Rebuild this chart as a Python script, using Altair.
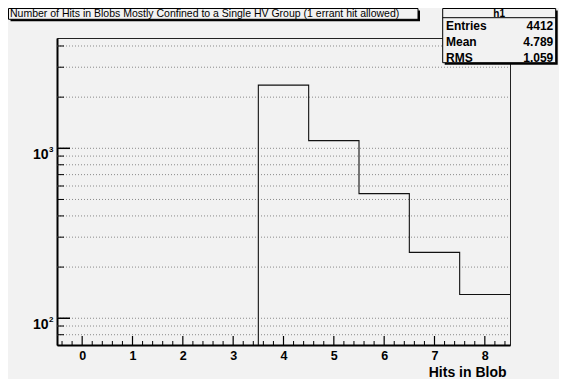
import altair as alt
import pandas as pd
import numpy as np

# ---- data ----
bin_centers = [4, 5, 6, 7, 8]
counts = [2355, 1109, 541, 244, 138]
x_tick_labels = [0, 1, 2, 3, 4, 5, 6, 7, 8]
y_major = [100, 1000]
y_major_exp = ["2", "3"]
y_minor = [80, 90, 200, 300, 400, 500, 600, 700, 800, 900, 2000, 3000, 4000]
y_domain = [69.6, 4457]
x_domain = [-0.5, 8.5]
title_text = "Number of Hits in Blobs Mostly Confined to a Single HV Group (1 errant hit allowed)"
stats_name = "h1"
stats_labels = ["Entries", "Mean", "RMS"]
stats_values = ["4412", "4.789", "1.059"]
x_title = "Hits in Blob"

# ---- layout ----
W, H = 453, 307
BG = "#f2f2f2"
FONT = "Liberation Sans"

xscale = alt.Scale(domain=x_domain, nice=False, zero=False)
yscale = alt.Scale(type="log", domain=y_domain, nice=False)

xaxis = alt.Axis(values=x_tick_labels, ticks=False, grid=False, domain=True,
                 domainColor="black", domainWidth=2, labelFont=FONT,
                 labelFontSize=12.5, labelFontWeight="bold", labelColor="black",
                 labelPadding=4, title=x_title, titleFont=FONT, titleFontSize=14,
                 titleFontWeight="bold", titleColor="black", titleAlign="right",
                 titleAnchor="end", titleX=W - 4, titleY=31,
                 titleBaseline="alphabetic")
yaxis = alt.Axis(labels=False, ticks=False, grid=False, domain=True,
                 domainColor="black", domainWidth=2, title="")

def X(field):
    return alt.X(field, scale=xscale, axis=xaxis)

def Y(field):
    return alt.Y(field, scale=yscale, axis=yaxis)

# step outline of the histogram
sx, sy = [bin_centers[0] - 0.5], [y_domain[0]]
for c, v in zip(bin_centers, counts):
    sx += [c - 0.5, c + 0.5]
    sy += [v, v]
step = pd.DataFrame({"x": sx, "y": sy, "o": list(range(len(sx)))})

grid_df = pd.DataFrame({"v": y_minor + y_major})
ymaj_df = pd.DataFrame({"v": y_major, "base": ["10"] * len(y_major), "exp": y_major_exp})
ymin_df = pd.DataFrame({"v": y_minor})

minor_x = [round(v, 1) for v in np.arange(-0.4, 8.45, 0.2) if abs(v - round(v)) > 1e-6]
xmin_df = pd.DataFrame({"x": minor_x})
xmaj_df = pd.DataFrame({"x": x_tick_labels})
one = pd.DataFrame({"a": [0]})

grid = alt.Chart(grid_df).mark_rule(color="#8a8a8a", strokeDash=[1, 2], strokeWidth=1).encode(
    y=Y("v:Q"), x=alt.value(0), x2=alt.value(W))

hist = alt.Chart(step).mark_line(color="#111111", strokeWidth=1.1, interpolate="linear").encode(
    x=X("x:Q"), y=Y("y:Q"), order="o:Q")

ytick_major = alt.Chart(ymaj_df).mark_rule(color="black", strokeWidth=1.5).encode(
    y=Y("v:Q"), x=alt.value(0), x2=alt.value(13))
ytick_minor = alt.Chart(ymin_df).mark_rule(color="black", strokeWidth=1).encode(
    y=Y("v:Q"), x=alt.value(0), x2=alt.value(7))

xtick_major = alt.Chart(xmaj_df).mark_rule(color="black", strokeWidth=1.2).encode(
    x=X("x:Q"), y=alt.value(H), y2=alt.value(H - 9))
xtick_minor = alt.Chart(xmin_df).mark_rule(color="black", strokeWidth=1).encode(
    x=X("x:Q"), y=alt.value(H), y2=alt.value(H - 4))

ylab_base = alt.Chart(ymaj_df).mark_text(font=FONT, fontSize=14, fontWeight="bold",
                                         align="right", baseline="alphabetic", dy=11,
                                         color="black").encode(
    y=Y("v:Q"), x=alt.value(-8.5), text="base:N")
ylab_exp = alt.Chart(ymaj_df).mark_text(font=FONT, fontSize=8, fontWeight="bold",
                                        align="left", baseline="alphabetic", dy=3.5,
                                        color="black").encode(
    y=Y("v:Q"), x=alt.value(-8), text="exp:N")

# title pave
tb = dict(x0=-48.5, x1=361, y0=-29.5, y1=-18.7)
title_shadow = alt.Chart(one).mark_rect(fill="black").encode(
    x=alt.value(tb["x0"] + 2), x2=alt.value(tb["x1"] + 2),
    y=alt.value(tb["y0"] + 2), y2=alt.value(tb["y1"] + 2))
title_box = alt.Chart(one).mark_rect(fill=BG, stroke="black", strokeWidth=1).encode(
    x=alt.value(tb["x0"]), x2=alt.value(tb["x1"]), y=alt.value(tb["y0"]), y2=alt.value(tb["y1"]))
title_txt = alt.Chart(one).mark_text(font=FONT, fontSize=10.5, align="left",
                                     baseline="alphabetic", color="black").encode(
    x=alt.value(-47), y=alt.value(-21.1), text=alt.value(title_text))

# stats pave
sb = dict(x0=385.7, x1=498.7, y0=-29.5, y1=24.7)
stats_shadow = alt.Chart(one).mark_rect(fill="black").encode(
    x=alt.value(sb["x0"] + 2), x2=alt.value(sb["x1"] + 2),
    y=alt.value(sb["y0"] + 2), y2=alt.value(sb["y1"] + 2))
stats_box = alt.Chart(one).mark_rect(fill=BG, stroke="black", strokeWidth=1).encode(
    x=alt.value(sb["x0"]), x2=alt.value(sb["x1"]), y=alt.value(sb["y0"]), y2=alt.value(sb["y1"]))
stats_sep = alt.Chart(one).mark_rule(color="black", strokeWidth=1).encode(
    x=alt.value(sb["x0"]), x2=alt.value(sb["x1"]), y=alt.value(-20.3))
stats_head = alt.Chart(one).mark_text(font=FONT, fontSize=10, fontWeight="bold", align="center",
                                      baseline="alphabetic", color="black").encode(
    x=alt.value((sb["x0"] + sb["x1"]) / 2), y=alt.value(-21.3), text=alt.value(stats_name))

stats_rows = []
for i, (lab, val) in enumerate(zip(stats_labels, stats_values)):
    yy = -8.2 + i * 16.2
    stats_rows.append(alt.Chart(one).mark_text(font=FONT, fontSize=12, fontWeight="bold",
                                               align="left", baseline="alphabetic",
                                               color="black").encode(
        x=alt.value(389), y=alt.value(yy), text=alt.value(lab)))
    stats_rows.append(alt.Chart(one).mark_text(font=FONT, fontSize=12, fontWeight="bold",
                                               align="right", baseline="alphabetic",
                                               color="black").encode(
        x=alt.value(496.3), y=alt.value(yy), text=alt.value(val)))

chart = alt.layer(
    grid, hist, ytick_major, ytick_minor, xtick_major, xtick_minor, ylab_base, ylab_exp,
    title_shadow, title_box, title_txt, stats_shadow, stats_box, stats_sep, stats_head,
    *stats_rows,
).properties(
    width=W, height=H, background=BG,
    padding={"left": 49, "top": 30, "right": 49, "bottom": 34},
    autosize=alt.AutoSizeParams(type="none"),
).configure_view(stroke="#222222", strokeWidth=1, fill=BG)

chart.save("out.html", embed_options={"renderer": "svg", "actions": False})
